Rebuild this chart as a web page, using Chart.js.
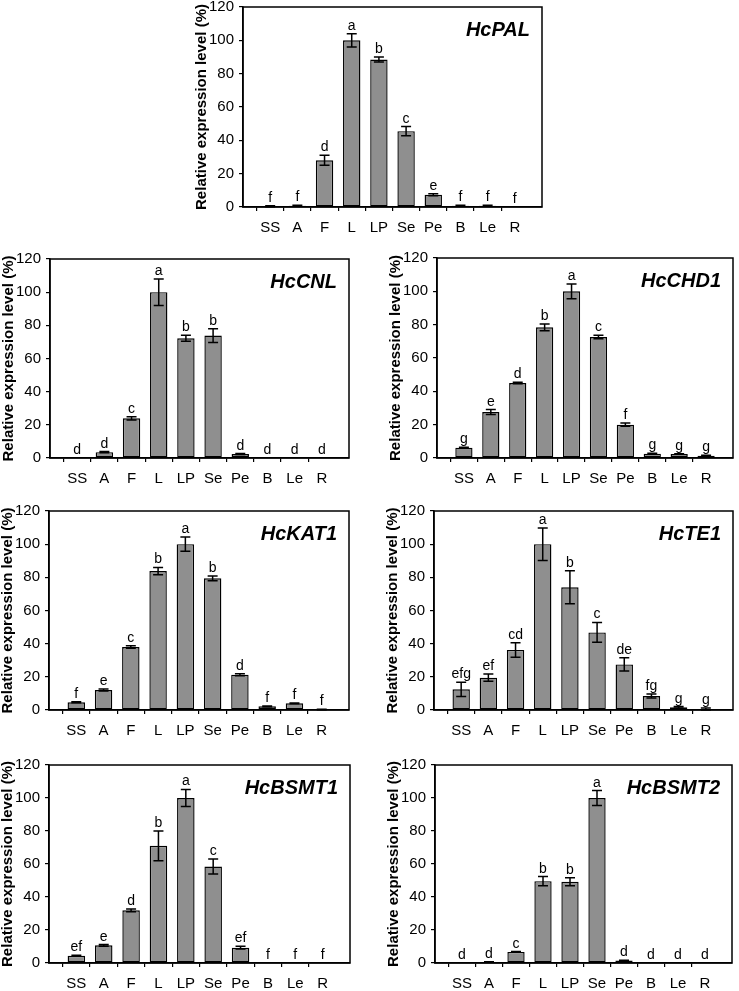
<!DOCTYPE html>
<html><head><meta charset="utf-8">
<script src="https://cdn.jsdelivr.net/npm/chart.js@4.4.0/dist/chart.umd.min.js"></script>
<style>
html,body{margin:0;padding:0;background:#fff;width:739px;height:991px;overflow:hidden;position:relative}
canvas{position:absolute}
</style>
</head><body>
<script>
const categories = ['SS','A','F','L','LP','Se','Pe','B','Le','R'];
const yTicks = [0,20,40,60,80,100,120];
const yTitle = 'Relative expression level (%)';

const palValues  = [0.5, 0.8, 28, 100, 88.5, 45.5, 7.4, 0.8, 0.8, 0.1];
const palErrors  = [0.3, 0.3, 3, 4, 1.5, 2.8, 0.6, 0.3, 0.3, 0];
const palLetters = ['f','f','d','a','b','c','e','f','f','f'];

const cnlValues  = [0.2, 3.5, 23.9, 100, 72.2, 73.8, 2.4, 0, 0, 0];
const cnlErrors  = [0, 0.4, 1, 8, 1.8, 4.2, 0.3, 0, 0, 0];
const cnlLetters = ['d','d','c','a','b','b','d','d','d','d'];

const chd1Values  = [6.2, 27.6, 45, 78.4, 100, 72.6, 20, 2.6, 2.4, 1.4];
const chd1Errors  = [0.3, 1.5, 0.5, 2, 4.4, 1, 1, 0.2, 0.2, 0.2];
const chd1Letters = ['g','e','d','b','a','c','f','g','g','g'];

const kat1Values  = [4.6, 12, 38, 83.8, 100, 79.4, 21.3, 2.2, 4, 0.3];
const kat1Errors  = [0.3, 0.6, 0.8, 2.2, 4.3, 1.4, 0.6, 0.2, 0.2, 0.1];
const kat1Letters = ['f','e','c','b','a','b','d','f','f','f'];

const te1Values  = [12.5, 19.5, 36.2, 100, 74, 46.8, 27.5, 8.4, 1.6, 0.2];
const te1Errors  = [4.3, 2.2, 4.4, 9.8, 10, 6, 4, 1.2, 0.5, 1];
const te1Letters = ['efg','ef','cd','a','b','c','de','fg','g','g'];

const bsmt1Values  = [4.4, 10.7, 31.9, 71, 100, 58.5, 9.3, 0, 0, 0];
const bsmt1Errors  = [0.3, 0.5, 0.8, 9, 5.2, 4.5, 0.8, 0, 0, 0];
const bsmt1Letters = ['ef','e','d','b','a','c','ef','f','f','f'];

const bsmt2Values  = [0.2, 0.6, 6.7, 49.6, 49.2, 100, 1.5, 0, 0, 0];
const bsmt2Errors  = [0, 0.2, 0.2, 2.8, 2.4, 4.5, 0.2, 0, 0, 0];
const bsmt2Letters = ['d','d','c','b','b','a','d','d','d','d'];

const geneNames = ['HcPAL','HcCNL','HcCHD1','HcKAT1','HcTE1','HcBSMT1','HcBSMT2'];

// layout: plot-area boxes [left, top, right, bottom]
const panels = [
  {gene: geneNames[0], values: palValues,   errors: palErrors,   letters: palLetters,   box: [243, 7, 542, 207]},
  {gene: geneNames[1], values: cnlValues,   errors: cnlErrors,   letters: cnlLetters,   box: [50, 259, 349, 458]},
  {gene: geneNames[2], values: chd1Values,  errors: chd1Errors,  letters: chd1Letters,  box: [437, 258, 733, 458]},
  {gene: geneNames[3], values: kat1Values,  errors: kat1Errors,  letters: kat1Letters,  box: [49, 511, 349, 710]},
  {gene: geneNames[4], values: te1Values,   errors: te1Errors,   letters: te1Letters,   box: [434, 511, 733, 710]},
  {gene: geneNames[5], values: bsmt1Values, errors: bsmt1Errors, letters: bsmt1Letters, box: [49, 765, 350, 963]},
  {gene: geneNames[6], values: bsmt2Values, errors: bsmt2Errors, letters: bsmt2Letters, box: [435, 765, 732, 963]}
];

const FONT = "'Liberation Sans', Arial, Helvetica, sans-serif";
const LEFT = 62, TOP = 10, RIGHT = 6, BOTTOM = 28;

const decor = {
  id: 'decor',
  afterDatasetsDraw(chart) {
    const p = chart.options.plugins.decor;
    const {ctx, chartArea: a, scales: {x, y}} = chart;
    ctx.save();
    ctx.strokeStyle = '#000';
    ctx.lineWidth = 1.5;
    p.values.forEach((v, i) => {
      const e = p.errors[i];
      const cx = x.getPixelForValue(i + 1);
      if (e > 0) {
        const yt = y.getPixelForValue(v + e);
        const yb = y.getPixelForValue(Math.max(0, v - e));
        ctx.beginPath();
        ctx.moveTo(cx, yt); ctx.lineTo(cx, yb);
        ctx.moveTo(cx - 5, yt); ctx.lineTo(cx + 5, yt);
        ctx.moveTo(cx - 5, yb); ctx.lineTo(cx + 5, yb);
        ctx.stroke();
      }
    });
    ctx.fillStyle = '#000';
    ctx.font = '14px ' + FONT;
    ctx.textAlign = 'center';
    ctx.textBaseline = 'alphabetic';
    p.values.forEach((v, i) => {
      const cx = x.getPixelForValue(i + 1);
      const yt = y.getPixelForValue(v + p.errors[i]);
      ctx.fillText(p.letters[i], cx, yt - 4);
    });
    ctx.font = 'italic bold 20px ' + FONT;
    ctx.textAlign = 'right';
    ctx.fillText(p.gene, a.right - 12, a.top + 29);
    ctx.lineWidth = 1.5;
    ctx.strokeRect(a.left, a.top, a.width, a.height);
    ctx.restore();
  }
};

function buildChart(pn, w, h) {
  const c = document.createElement('canvas');
  c.width = w; c.height = h;
  c.style.width = w + 'px'; c.style.height = h + 'px';
  document.body.appendChild(c);
  const labels = [''].concat(categories, ['']);
  const data = [null].concat(pn.values, [null]);
  const chart = new Chart(c, {
    type: 'bar',
    data: {
      labels: labels,
      datasets: [{
        data: data,
        backgroundColor: '#8f8f8f',
        borderColor: '#000',
        borderWidth: 1.4,
        borderSkipped: false,
        barPercentage: 0.64,
        categoryPercentage: 1
      }]
    },
    options: {
      responsive: false,
      animation: false,
      devicePixelRatio: 1,
      layout: {padding: {top: TOP, right: RIGHT, left: 0, bottom: 0}},
      plugins: {
        legend: {display: false},
        tooltip: {enabled: false},
        decor: {values: pn.values, errors: pn.errors, letters: pn.letters, gene: pn.gene}
      },
      scales: {
        x: {
          offset: false,
          afterFit(s) { s.height = BOTTOM; },
          grid: {
            drawOnChartArea: false, drawTicks: true, tickLength: 4,
            color: (ctx) => (ctx.index === 0 || ctx.index === labels.length - 1) ? 'rgba(0,0,0,0)' : '#000',
            lineWidth: 1.2
          },
          border: {display: true, color: '#000', width: 1.5},
          ticks: {color: '#000', font: {family: FONT, size: 15}, padding: 8, maxRotation: 0, autoSkip: false}
        },
        y: {
          min: yTicks[0], max: yTicks[yTicks.length - 1],
          afterFit(s) { s.width = LEFT; },
          afterBuildTicks(s) { s.ticks = yTicks.map(v => ({value: v})); },
          grid: {drawOnChartArea: false, drawTicks: true, tickLength: 4, color: '#000', lineWidth: 1.2},
          border: {display: true, color: '#000', width: 1.5},
          ticks: {color: '#000', font: {family: FONT, size: 15}, padding: 5},
          title: {display: true, text: yTitle, color: '#000', font: {family: FONT, size: 15, weight: 'bold'}, padding: {top: 12, bottom: 0}}
        }
      }
    },
    plugins: [decor]
  });
  return {c, chart};
}

panels.forEach((pn) => {
  const [l, t, r, b] = pn.box;
  let w = (r - l) + LEFT + RIGHT, h = (b - t) + TOP + BOTTOM;
  // first pass: measure the chart area Chart.js produces, then correct the canvas size
  let {c, chart} = buildChart(pn, w, h);
  const dw = (r - l) - chart.chartArea.width;
  const dh = (b - t) - chart.chartArea.height;
  if (Math.abs(dw) > 0.5 || Math.abs(dh) > 0.5) {
    chart.destroy(); c.remove();
    w += Math.round(dw); h += Math.round(dh);
    ({c, chart} = buildChart(pn, w, h));
  }
  c.style.left = (l - chart.chartArea.left) + 'px';
  c.style.top = (t - chart.chartArea.top) + 'px';
});
</script>
</body></html>
